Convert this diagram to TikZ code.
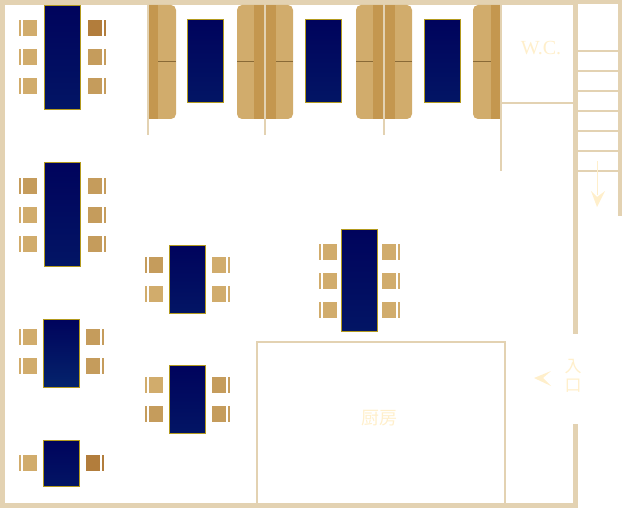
\documentclass[tikz,border=0pt]{standalone}
\usepackage{fontspec}
\setmainfont{Liberation Serif}
\newfontfamily\cjk{Noto Sans CJK JP}
\definecolor{wall}{HTML}{E3D2B2}
\definecolor{navy}{HTML}{00035C}
\definecolor{navylow}{HTML}{04246C}
\definecolor{gold}{HTML}{B39A1E}
\definecolor{wood}{HTML}{D1AC6C}
\definecolor{woodmid}{HTML}{C59C5C}
\definecolor{woodlow}{HTML}{B27D3C}
\definecolor{wooddark}{HTML}{C4974F}
\definecolor{cream}{HTML}{FFEFCB}
\tikzset{
  wallfill/.style={fill=wall,draw=none},
  tablebox/.style={draw=gold,line width=1pt,bottom color=navylow!#1!navy,top color=navy},
  tablebox/.default=55,
  seat/.style={fill=#1,draw=none},
  benchfill/.style={fill=wood,draw=none},
  stripe/.style={fill=wooddark,draw=none},
  seam/.style={draw=wooddark!70!black,line width=.8pt},
  roomlabel/.style={text=cream,inner sep=0pt},
  guidearrow/.style={fill=cream,draw=none},
}
% chair left of a table: x of the bar, y of the top
\newcommand{\seatL}[3][wood]{\fill[seat=#1](#2,#3)rectangle++(2,16);\fill[seat=#1](#2+4,#3)rectangle++(14,16);}
% chair right of a table
\newcommand{\seatR}[3][wood]{\fill[seat=#1](#2,#3)rectangle++(14,16);\fill[seat=#1](#2+16,#3)rectangle++(2,16);}
\begin{document}
\begin{tikzpicture}[x=1pt,y=-1pt]
\useasboundingbox(0,0)rectangle(622,508);
% outer walls
\fill[wallfill](0,0)rectangle(578,5);
\fill[wallfill](578,0)rectangle(622,4);
\fill[wallfill](0,0)rectangle(5,508);
\fill[wallfill](0,503)rectangle(578,508);
\fill[wallfill](573,0)rectangle(578,334);
\fill[wallfill](573,424)rectangle(578,508);
\fill[wallfill](618,0)rectangle(622,216);
% stairs
\foreach \y in {50,70,90,110,130,150,170}
  \fill[wallfill](578,\y)rectangle(618,\y+2);
% benches
\fill[benchfill](148,5)[rounded corners=5pt]--(176,5)--(176,119)[sharp corners]--(148,119)--cycle;
\foreach \x in {237,356}
  \fill[benchfill,rounded corners=5pt](\x,5)rectangle(\x+56,119);
\fill[benchfill](501,5)[rounded corners=5pt]--(473,5)--(473,119)[sharp corners]--(501,119)--cycle;
\fill[stripe](148,5)rectangle(158,119);
\foreach \x in {254,373}
  \fill[stripe](\x,5)rectangle(\x+22,119);
\fill[stripe](491,5)rectangle(501,119);
\draw[seam](158,61)--(176,61);
\draw[seam](237,61)--(254,61)(276,61)--(293,61);
\draw[seam](356,61)--(373,61)(395,61)--(412,61);
\draw[seam](473,61)--(491,61);
% inner walls
\foreach \x in {147,264,383}
  \fill[wallfill](\x,4)rectangle(\x+2,135);
\fill[wallfill](500,4)rectangle(502,171);
\fill[wallfill](502,102)rectangle(573,104);
\draw[wall,line width=2pt](257,503)--(257,342)--(505,342)--(505,503);
% tables
\foreach \x/\y/\h in {44/5/105,44/162/105,43/440/47,187/19/84,305/19/84,424/19/84,169/245/69,169/365/69,341/229/103}
  \draw[tablebox](\x+.5,\y+.5)rectangle(\x+36.5,\y+\h-.5);
\draw[tablebox=100](43.5,319.5)rectangle(79.5,387.5);
% chairs
\foreach \y/\cl/\cr in {20/wood/woodlow,49/wood/woodmid,78/wood/woodmid,178/woodmid/woodmid,207/wood/woodmid,236/wood/woodmid}{
  \seatL[\cl]{19}{\y}
  \seatR[\cr]{88}{\y}
}
\seatL{19}{329}\seatL{19}{358}
\seatR[woodmid]{86}{329}\seatR[woodmid]{86}{358}
\seatL{19}{455}\seatR[woodlow]{86}{455}
\foreach \y/\cl/\cr in {257/woodmid/wood,286/wood/wood,377/wood/woodmid,406/woodmid/woodmid}{
  \seatL[\cl]{145}{\y}
  \seatR[\cr]{212}{\y}
}
\foreach \y in {244,273,302}{
  \seatL{319}{\y}
  \seatR{382}{\y}
}
% labels
\node[roomlabel,font=\fontsize{20}{20}\selectfont](wc)at(541,48){W.C.};
\node[roomlabel,font=\cjk\fontsize{18}{18}\selectfont](kitchen)at(379,418){厨房};
\node[roomlabel,font=\cjk\fontsize{17}{17}\selectfont](enterA)at(573,367){入};
\node[roomlabel,font=\cjk\fontsize{17}{17}\selectfont](enterB)at(573,386){口};
% arrows
\fill[guidearrow](596.7,161)rectangle(597.7,195);
\fill[guidearrow](597,207)--(591,191)--(597,197)--(605,191)--cycle;
\fill[guidearrow](534,378)--(551,371)--(543,378)--(551,386)--cycle;
\end{tikzpicture}
\end{document}
